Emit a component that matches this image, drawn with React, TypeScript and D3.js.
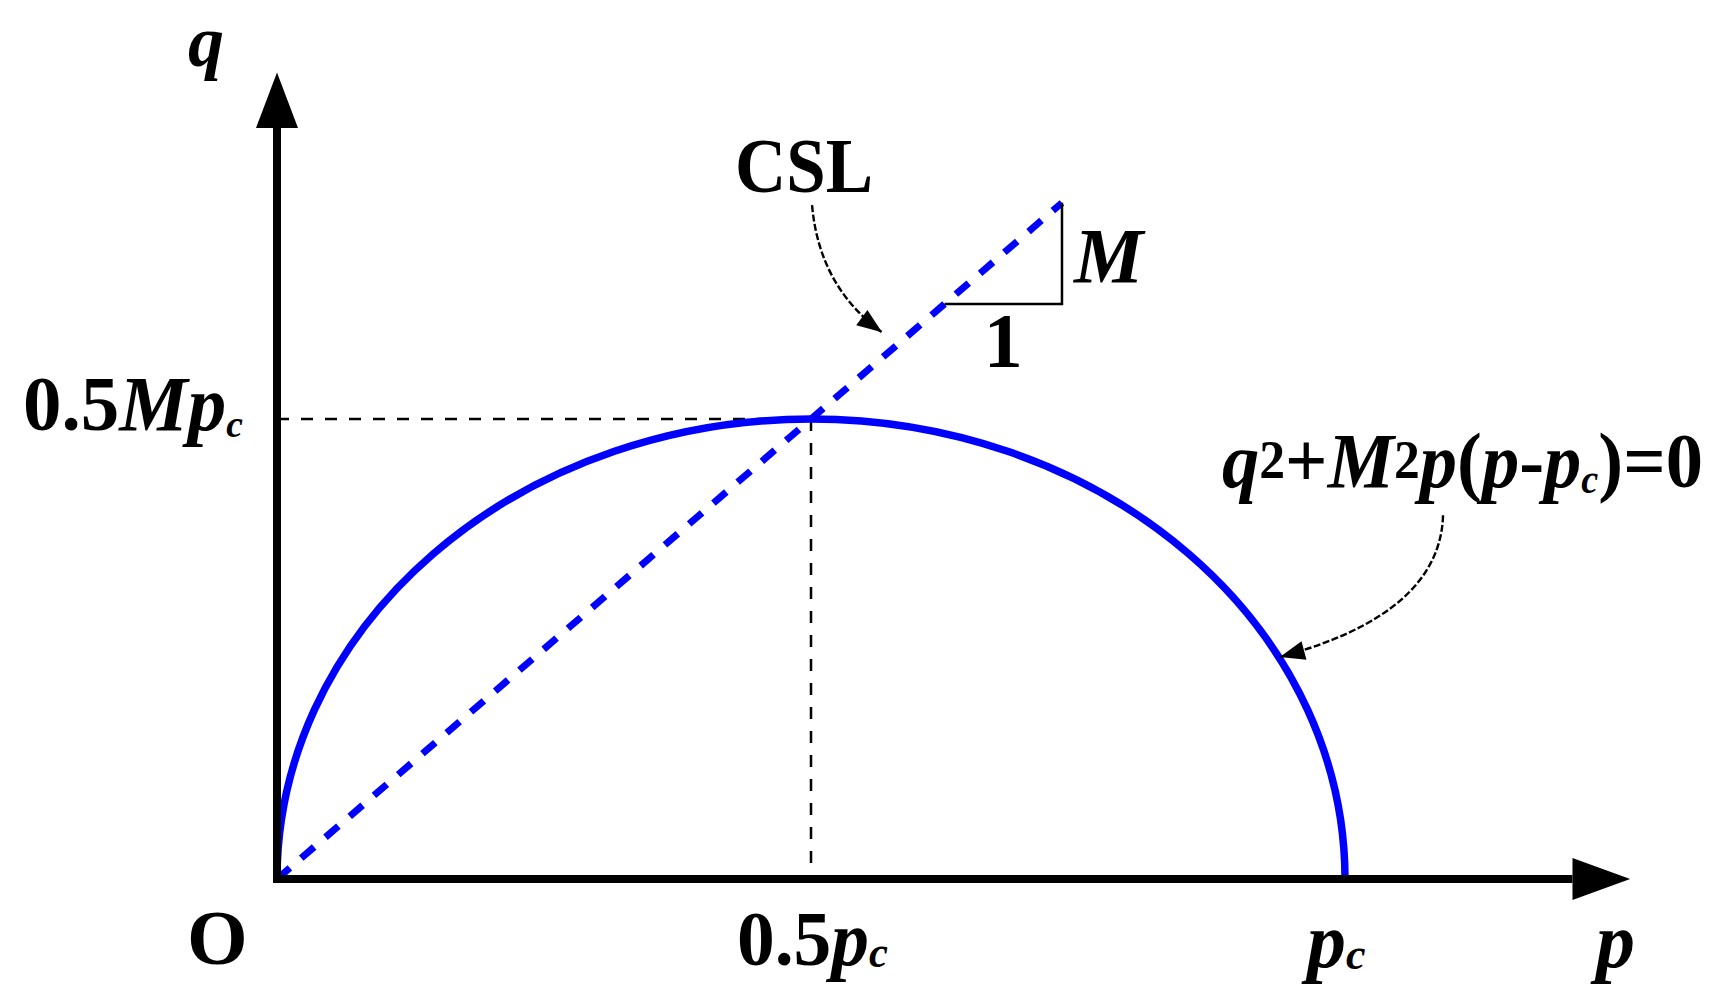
import React from "react";
import * as d3 from "d3";

// ---- schematic data (normalised units: pc = 1) ----
const PC = 1; // pre-consolidation pressure
const M = 0.86; // CSL slope
const CSL_P = [0, 0.735]; // extent of the critical state line in p
const SLOPE_RUN_P = [0.625, 0.735]; // slope triangle run along p
const X_TICKS = [0, 0.5, 1]; // O, 0.5pc, pc
const Y_TICKS = [0.5]; // 0.5 M pc
const AXIS_P = [0, 1.213, 1.267]; // axis start, arrow base, arrow tip (p)
const AXIS_Q = [0, 0.702, 0.754]; // axis start, arrow base, arrow tip (q)
const CSL_ARROW = [[0.501, 0.63], [0.5075, 0.554], [0.5665, 0.511]];
const YS_ARROW = [[1.0918, 0.34], [1.089, 0.2477], [0.939, 0.2075]];

const FONT = "'Liberation Serif', 'Times New Roman', serif";
const BLUE = "#0000ff";

function arrowHead(ctrl: number[], tip: number[], L: number, W: number) {
  const dx = tip[0] - ctrl[0];
  const dy = tip[1] - ctrl[1];
  const n = Math.hypot(dx, dy);
  const ux = dx / n, uy = dy / n;
  const bx = tip[0] - ux * L, by = tip[1] - uy * L;
  const px = -uy, py = ux;
  return `M${tip[0]},${tip[1]}L${bx + px * W},${by + py * W}L${bx - px * W},${by - py * W}Z`;
}

export default function App() {
  const x = d3.scaleLinear().domain([0, PC]).range([277, 1345]);
  const y = d3.scaleLinear().domain([0, 0.5 * M * PC]).range([879, 419]);

  const x0 = x(0), x1 = x(PC), yb = y(0);
  const rx = (x1 - x0) / 2;
  const ry = yb - y(0.5 * M * PC);
  const ellipsePath = `M${x0},${yb}A${rx},${ry} 0 0 1 ${x1},${yb}`;

  const cslLine = d3.line<number>().x((p) => x(p)).y((p) => y(M * p))(CSL_P) as string;

  const tri = `M${x(SLOPE_RUN_P[0])},${y(M * SLOPE_RUN_P[0])}H${x(SLOPE_RUN_P[1])}V${y(M * SLOPE_RUN_P[1])}`;

  const toPx = (pt: number[]) => [x(pt[0]), y(pt[1])];
  const curve = (pts: number[][]) => {
    const [a, c, b] = pts.map(toPx);
    const path = d3.path();
    path.moveTo(a[0], a[1]);
    path.quadraticCurveTo(c[0], c[1], b[0], b[1]);
    return { d: path.toString(), head: arrowHead(c, b, 25, 9.5) };
  };
  const cslArrow = curve(CSL_ARROW);
  const ysArrow = curve(YS_ARROW);

  const axisW = 8;
  const xAxisY = y(0);
  const yAxisX = x(0);

  const txt = { fontFamily: FONT, fontWeight: "bold" as const, fontSize: 78, fill: "#000" };
  const it = { fontStyle: "italic" as const };

  return (
    <svg
      width={1720}
      height={1004}
      style={{ position: "absolute", left: 0, top: 0, background: "#fff" }}
    >
      <rect x={0} y={0} width={1720} height={1004} fill="#fff" />
      {/* guide dashed lines */}
      <line
        x1={x(0)}
        x2={x(X_TICKS[1])}
        y1={y(Y_TICKS[0] * M * PC)}
        y2={y(Y_TICKS[0] * M * PC)}
        stroke="#000"
        strokeWidth={2.5}
        strokeDasharray="12 12"
      />
      <line
        x1={x(X_TICKS[1])}
        x2={x(X_TICKS[1])}
        y1={y(Y_TICKS[0] * M * PC)}
        y2={y(0)}
        stroke="#000"
        strokeWidth={2.5}
        strokeDasharray="12 12"
      />
      {/* yield surface */}
      <path d={ellipsePath} fill="none" stroke={BLUE} strokeWidth={7.5} />
      {/* CSL */}
      <path d={cslLine} fill="none" stroke={BLUE} strokeWidth={7} strokeDasharray="17 15" />
      {/* slope triangle */}
      <path d={tri} fill="none" stroke="#000" strokeWidth={2.5} />
      {/* axes */}
      <line x1={x(AXIS_P[0]) - axisW / 2} x2={x(AXIS_P[1])} y1={xAxisY} y2={xAxisY} stroke="#000" strokeWidth={axisW} />
      <path
        d={`M${x(AXIS_P[2])},${xAxisY}L${x(AXIS_P[1])},${xAxisY - 21}L${x(AXIS_P[1])},${xAxisY + 21}Z`}
        fill="#000"
      />
      <line x1={yAxisX} x2={yAxisX} y1={y(AXIS_Q[0]) + axisW / 2} y2={y(AXIS_Q[1])} stroke="#000" strokeWidth={axisW} />
      <path
        d={`M${yAxisX},${y(AXIS_Q[2])}L${yAxisX - 21},${y(AXIS_Q[1])}L${yAxisX + 21},${y(AXIS_Q[1])}Z`}
        fill="#000"
      />
      {/* annotation arrows */}
      <path d={cslArrow.d} fill="none" stroke="#000" strokeWidth={2.4} strokeDasharray="7 2.5" />
      <path d={cslArrow.head} fill="#000" />
      <path d={ysArrow.d} fill="none" stroke="#000" strokeWidth={2.4} strokeDasharray="7 2.5" />
      <path d={ysArrow.head} fill="#000" />

      {/* labels */}
      <text {...txt} {...it} fontSize={72} x={yAxisX - 89} y={66}>q</text>
      <text {...txt} x={23} y={y(Y_TICKS[0] * M * PC) + 11} textLength={220} lengthAdjust="spacingAndGlyphs">
        <tspan>0.5</tspan>
        <tspan {...it}>Mp</tspan>
        <tspan {...it} fontSize={38} dy={7}>c</tspan>
      </text>
      <text {...txt} x={x(X_TICKS[0]) - 90} y={964}>O</text>
      <text {...txt} x={x(X_TICKS[1]) - 74} y={965} textLength={151} lengthAdjust="spacingAndGlyphs">
        <tspan>0.5</tspan>
        <tspan {...it}>p</tspan>
        <tspan {...it} fontSize={44} dy={2}>c</tspan>
      </text>
      <text {...txt} x={x(X_TICKS[2]) - 38} y={967}>
        <tspan {...it}>p</tspan>
        <tspan {...it} fontSize={44} dy={2}>c</tspan>
      </text>
      <text {...txt} {...it} x={1596} y={967}>p</text>
      <text {...txt} x={735} y={192} textLength={138} lengthAdjust="spacingAndGlyphs">CSL</text>
      <text {...txt} {...it} x={1074} y={282}>M</text>
      <text {...txt} x={(x(SLOPE_RUN_P[0]) + x(SLOPE_RUN_P[1])) / 2} y={367} textAnchor="middle">1</text>
      <text {...txt} x={1222} y={487} textLength={481} lengthAdjust="spacingAndGlyphs">
        <tspan {...it}>q</tspan>
        <tspan fontSize={54} dy={-9}>2</tspan>
        <tspan dy={9}>+</tspan>
        <tspan {...it}>M</tspan>
        <tspan fontSize={54} dy={-9}>2</tspan>
        <tspan {...it} dy={9}>p</tspan>
        <tspan>(</tspan>
        <tspan {...it}>p</tspan>
        <tspan>-</tspan>
        <tspan {...it}>p</tspan>
        <tspan {...it} fontSize={40} dy={6}>c</tspan>
        <tspan dy={-6}>)=0</tspan>
      </text>
    </svg>
  );
}
